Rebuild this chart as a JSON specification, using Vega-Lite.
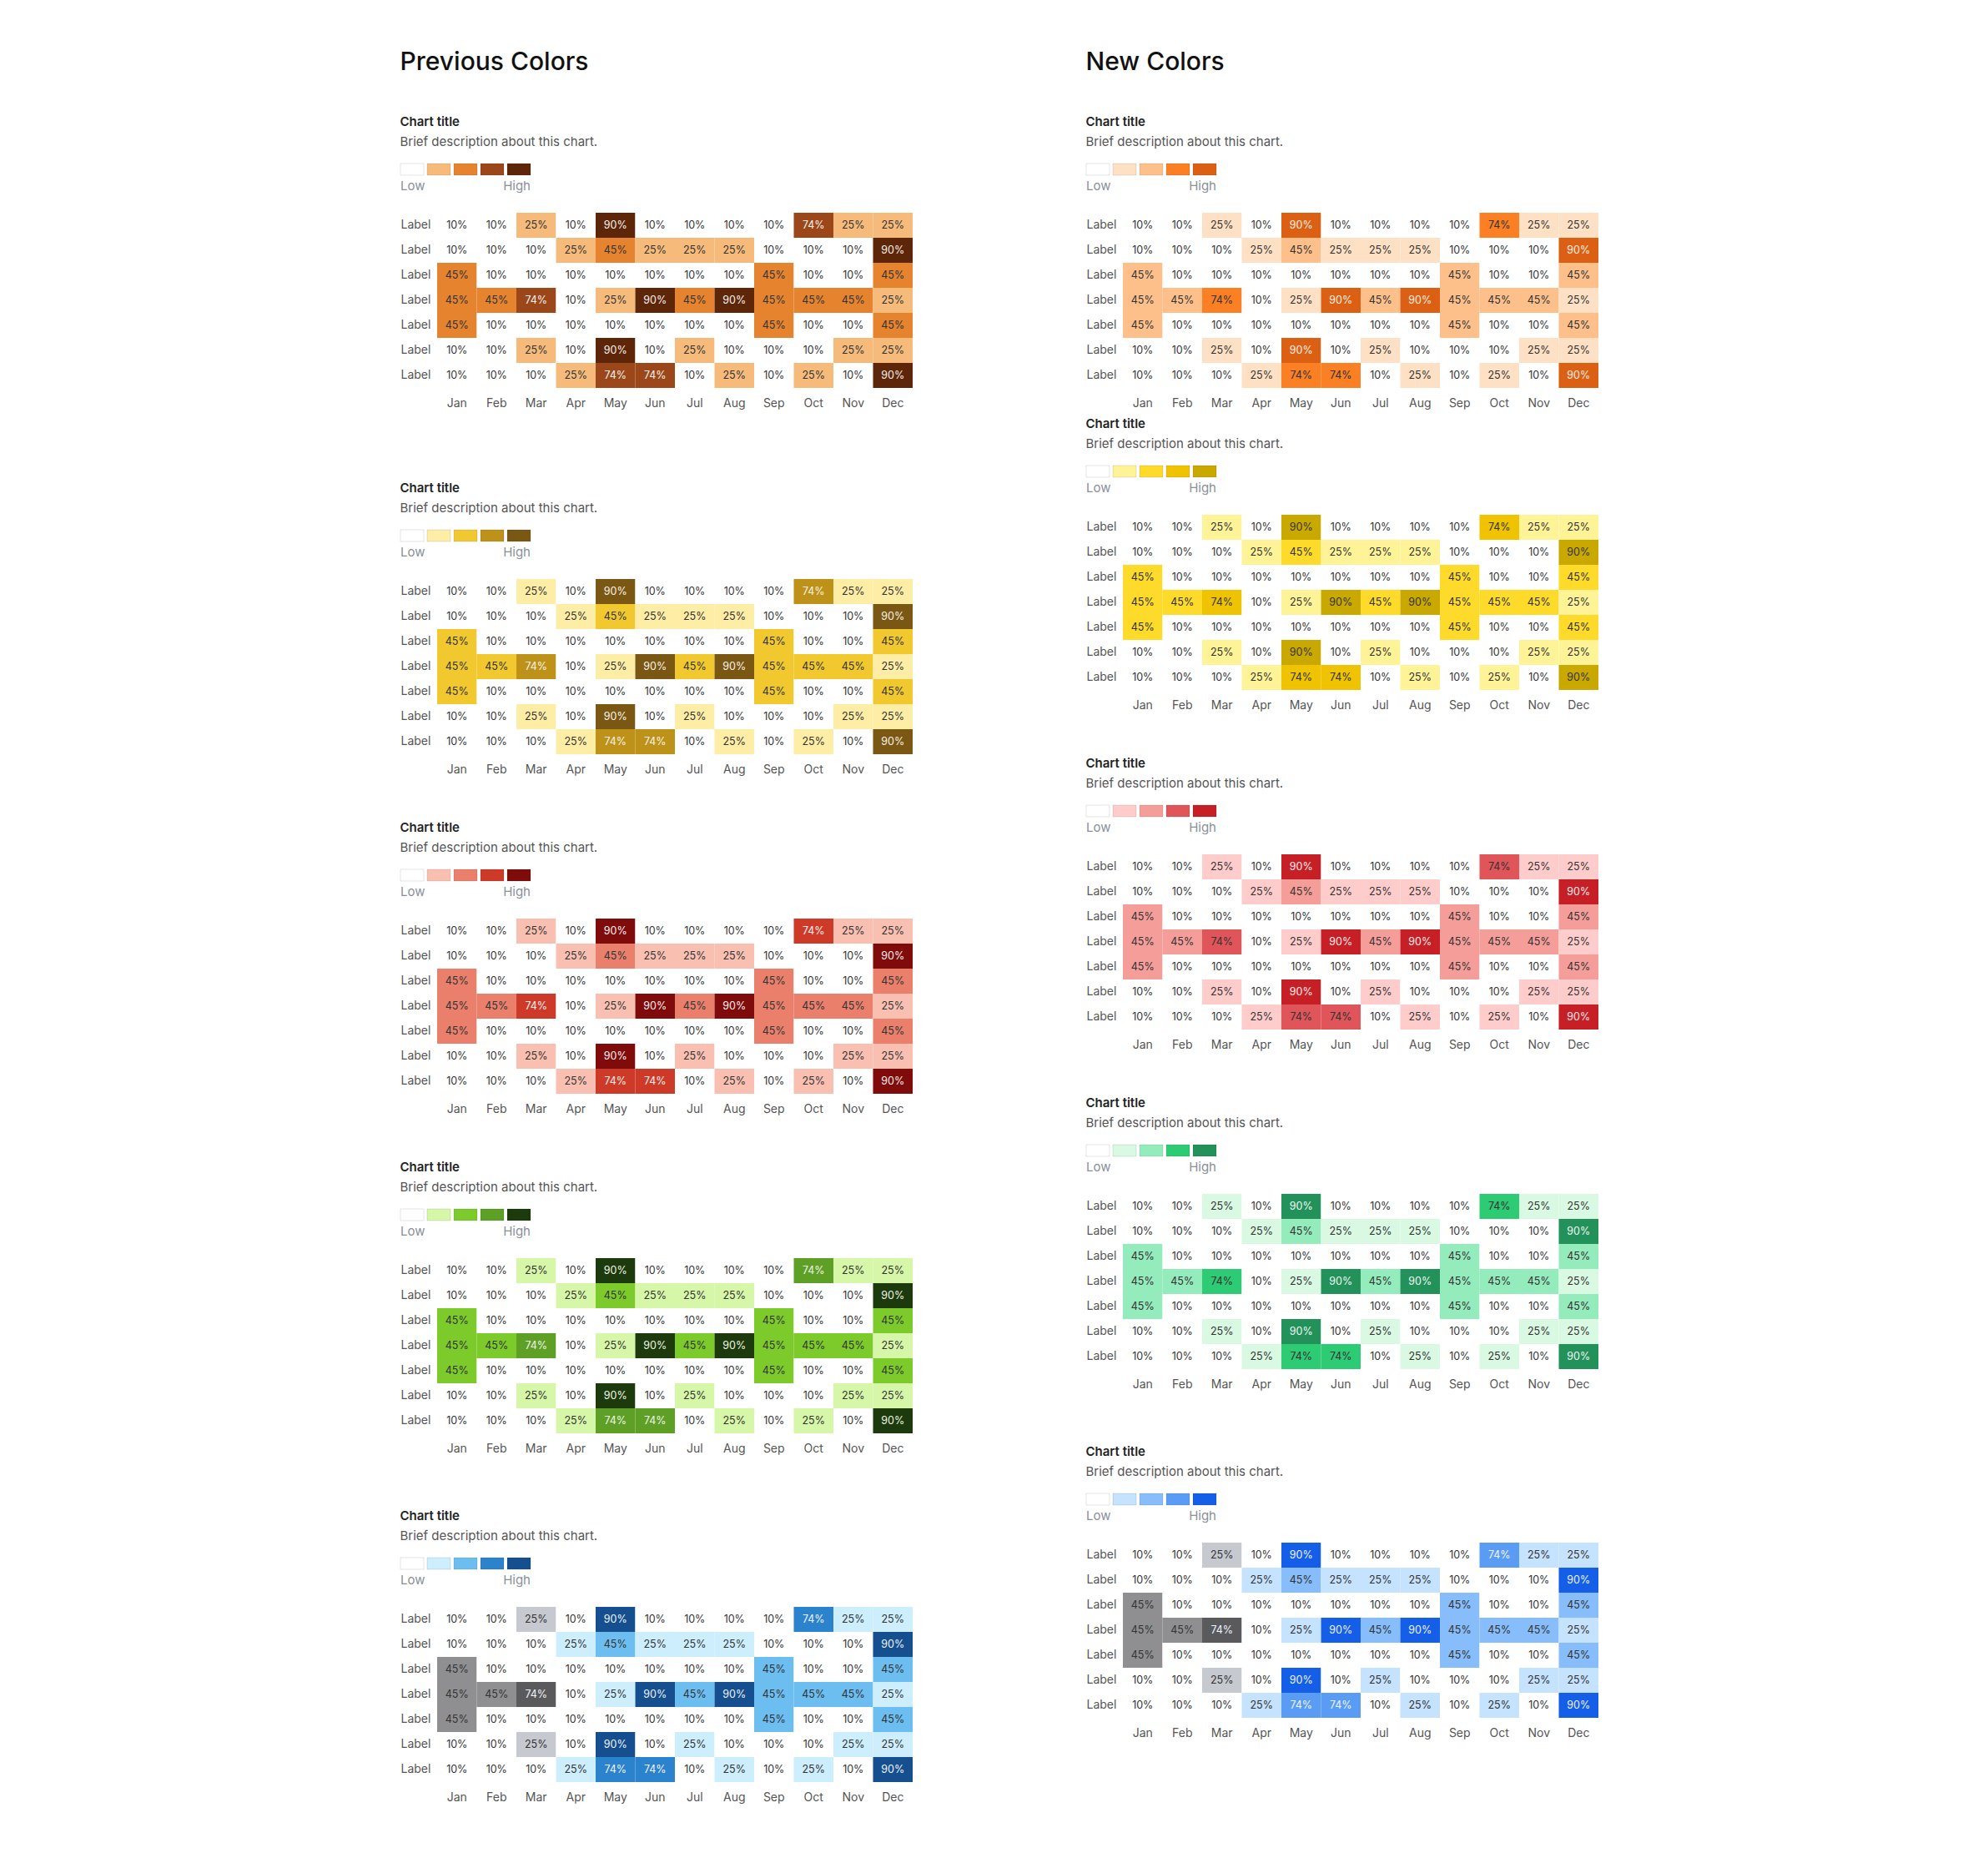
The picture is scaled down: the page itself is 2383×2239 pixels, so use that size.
{
"$schema": "https://vega.github.io/schema/vega-lite/v6.json",
"background": "#ffffff",
"padding": {"left": 479, "top": 59, "right": 20, "bottom": 20},
"spacing": 207,
"config": {
  "font": "Inter",
  "view": {"stroke": null},
  "title": {"anchor": "start", "font": "Inter", "fontSize": 15, "fontWeight": 600, "color": "#222222", "subtitleFont": "Inter", "subtitleFontSize": 15, "subtitleColor": "#555555", "subtitlePadding": 9, "offset": 18},
  "axis": {"domain": false, "ticks": false, "grid": false, "labelFont": "Inter", "labelFontSize": 14, "labelColor": "#555555", "title": null},
  "axisX": {"labelPadding": 11, "labelAngle": 0},
  "axisY": {"labelPadding": 44, "labelAlign": "left"},
  "concat": {"spacing": 24}
},
"datasets": {
  "legsw": [{"i":1,"k":"sw","v":0.1},{"i":2,"k":"sw","v":0.25},{"i":3,"k":"sw","v":0.45},{"i":4,"k":"sw","v":0.74},{"i":5,"k":"sw","v":0.9}],
  "legtxt": [{"i":1,"k":"lab","t":"Low"},{"i":5,"k":"lab","t":"High"}],
  "cells": [
{"r":1,"m":"Jan","v":0.1},{"r":1,"m":"Feb","v":0.1},{"r":1,"m":"Mar","v":0.25},{"r":1,"m":"Apr","v":0.1},{"r":1,"m":"May","v":0.9},{"r":1,"m":"Jun","v":0.1},{"r":1,"m":"Jul","v":0.1},{"r":1,"m":"Aug","v":0.1},{"r":1,"m":"Sep","v":0.1},{"r":1,"m":"Oct","v":0.74},{"r":1,"m":"Nov","v":0.25},{"r":1,"m":"Dec","v":0.25},
{"r":2,"m":"Jan","v":0.1},{"r":2,"m":"Feb","v":0.1},{"r":2,"m":"Mar","v":0.1},{"r":2,"m":"Apr","v":0.25},{"r":2,"m":"May","v":0.45},{"r":2,"m":"Jun","v":0.25},{"r":2,"m":"Jul","v":0.25},{"r":2,"m":"Aug","v":0.25},{"r":2,"m":"Sep","v":0.1},{"r":2,"m":"Oct","v":0.1},{"r":2,"m":"Nov","v":0.1},{"r":2,"m":"Dec","v":0.9},
{"r":3,"m":"Jan","v":0.45},{"r":3,"m":"Feb","v":0.1},{"r":3,"m":"Mar","v":0.1},{"r":3,"m":"Apr","v":0.1},{"r":3,"m":"May","v":0.1},{"r":3,"m":"Jun","v":0.1},{"r":3,"m":"Jul","v":0.1},{"r":3,"m":"Aug","v":0.1},{"r":3,"m":"Sep","v":0.45},{"r":3,"m":"Oct","v":0.1},{"r":3,"m":"Nov","v":0.1},{"r":3,"m":"Dec","v":0.45},
{"r":4,"m":"Jan","v":0.45},{"r":4,"m":"Feb","v":0.45},{"r":4,"m":"Mar","v":0.74},{"r":4,"m":"Apr","v":0.1},{"r":4,"m":"May","v":0.25},{"r":4,"m":"Jun","v":0.9},{"r":4,"m":"Jul","v":0.45},{"r":4,"m":"Aug","v":0.9},{"r":4,"m":"Sep","v":0.45},{"r":4,"m":"Oct","v":0.45},{"r":4,"m":"Nov","v":0.45},{"r":4,"m":"Dec","v":0.25},
{"r":5,"m":"Jan","v":0.45},{"r":5,"m":"Feb","v":0.1},{"r":5,"m":"Mar","v":0.1},{"r":5,"m":"Apr","v":0.1},{"r":5,"m":"May","v":0.1},{"r":5,"m":"Jun","v":0.1},{"r":5,"m":"Jul","v":0.1},{"r":5,"m":"Aug","v":0.1},{"r":5,"m":"Sep","v":0.45},{"r":5,"m":"Oct","v":0.1},{"r":5,"m":"Nov","v":0.1},{"r":5,"m":"Dec","v":0.45},
{"r":6,"m":"Jan","v":0.1},{"r":6,"m":"Feb","v":0.1},{"r":6,"m":"Mar","v":0.25},{"r":6,"m":"Apr","v":0.1},{"r":6,"m":"May","v":0.9},{"r":6,"m":"Jun","v":0.1},{"r":6,"m":"Jul","v":0.25},{"r":6,"m":"Aug","v":0.1},{"r":6,"m":"Sep","v":0.1},{"r":6,"m":"Oct","v":0.1},{"r":6,"m":"Nov","v":0.25},{"r":6,"m":"Dec","v":0.25},
{"r":7,"m":"Jan","v":0.1},{"r":7,"m":"Feb","v":0.1},{"r":7,"m":"Mar","v":0.1},{"r":7,"m":"Apr","v":0.25},{"r":7,"m":"May","v":0.74},{"r":7,"m":"Jun","v":0.74},{"r":7,"m":"Jul","v":0.1},{"r":7,"m":"Aug","v":0.25},{"r":7,"m":"Sep","v":0.1},{"r":7,"m":"Oct","v":0.25},{"r":7,"m":"Nov","v":0.1},{"r":7,"m":"Dec","v":0.9}
  ]
},
"hconcat": [
{
 "title": {"text": "Previous Colors", "fontSize": 30, "fontWeight": 500, "color": "#111111", "offset": 49},
 "columns": 1, "align": "none", "spacing": 87,
 "resolve": {"scale": {"color": "independent", "x": "independent", "y": "independent"}},
 "concat": [
  {
   "title": {"text": "Chart title", "subtitle": "Brief description about this chart."},
   "columns": 1, "align": "none", "spacing": 24,
   "resolve": {"scale": {"color": "independent", "x": "independent", "y": "independent"}},
   "concat": [
    {"width": 156, "height": 34, "layer": [
      {"data": {"name": "legsw"}, "mark": {"type": "rect", "stroke": "#000000", "strokeOpacity": 0.1, "strokeWidth": 1},
       "encoding": {"x": {"field": "i", "type": "ordinal", "scale": {"domain": [1,2,3,4,5], "range": [-44,112], "paddingInner": 0.125, "paddingOuter": 0}, "axis": null},
                    "y": {"field": "k", "type": "nominal", "scale": {"domain": ["sw","lab"], "paddingInner": 0.3, "paddingOuter": 0}, "axis": null},
                    "color": {"field": "v", "type": "ordinal", "scale": {"domain": [0.1,0.25,0.45,0.74,0.9], "range": ["#ffffff","#f6bb7b","#e5832f","#9b4719","#5e2609"]}, "legend": null}}},
      {"data": {"name": "legtxt"}, "transform": [{"filter": "datum.t == 'Low'"}], "mark": {"type": "text", "align": "left", "baseline": "middle", "fontSize": 15, "color": "#8a9099"},
       "encoding": {"x": {"field": "i", "type": "ordinal", "bandPosition": 0}, "y": {"field": "k", "type": "nominal"}, "text": {"field": "t"}}},
      {"data": {"name": "legtxt"}, "transform": [{"filter": "datum.t == 'High'"}], "mark": {"type": "text", "align": "right", "baseline": "middle", "fontSize": 15, "color": "#8a9099"},
       "encoding": {"x": {"field": "i", "type": "ordinal", "bandPosition": 1}, "y": {"field": "k", "type": "nominal"}, "text": {"field": "t"}}}
    ]},
    {"width": 570, "height": 210, "data": {"name": "cells"},
     "encoding": {"x": {"field": "m", "type": "ordinal", "sort": ["Jan","Feb","Mar","Apr","May","Jun","Jul","Aug","Sep","Oct","Nov","Dec"], "scale": {"paddingInner": 0, "paddingOuter": 0}},
                  "y": {"field": "r", "type": "ordinal", "scale": {"paddingInner": 0, "paddingOuter": 0}, "axis": {"labelExpr": "'Label'"}}},
     "layer": [
      {"mark": "rect", "encoding": {"color": {"field": "v", "type": "ordinal", "scale": {"domain": [0.1,0.25,0.45,0.74,0.9], "range": ["#ffffff","#f6bb7b","#e5832f","#9b4719","#5e2609"]}, "legend": null}}},
      {"mark": {"type": "text", "fontSize": 12.5}, "encoding": {"text": {"field": "v", "type": "quantitative", "format": ".0%"}, "color": {"condition": {"test": "datum.v >= 0.74", "value": "#f7f1ec"}, "value": "#333333"}}}
     ]}
   ]
  },
  {
   "columns": 1, "align": "none", "spacing": 66,
   "resolve": {"scale": {"color": "independent", "x": "independent", "y": "independent"}},
   "concat": [
    {
     "columns": 1, "align": "none", "spacing": 55,
     "resolve": {"scale": {"color": "independent", "x": "independent", "y": "independent"}},
     "concat": [
      {
       "title": {"text": "Chart title", "subtitle": "Brief description about this chart."},
       "columns": 1, "align": "none", "spacing": 24,
       "resolve": {"scale": {"color": "independent", "x": "independent", "y": "independent"}},
       "concat": [
        {"width": 156, "height": 34, "layer": [
          {"data": {"name": "legsw"}, "mark": {"type": "rect", "stroke": "#000000", "strokeOpacity": 0.1, "strokeWidth": 1},
           "encoding": {"x": {"field": "i", "type": "ordinal", "scale": {"domain": [1,2,3,4,5], "range": [-44,112], "paddingInner": 0.125, "paddingOuter": 0}, "axis": null},
                        "y": {"field": "k", "type": "nominal", "scale": {"domain": ["sw","lab"], "paddingInner": 0.3, "paddingOuter": 0}, "axis": null},
                        "color": {"field": "v", "type": "ordinal", "scale": {"domain": [0.1,0.25,0.45,0.74,0.9], "range": ["#ffffff","#fdeda5","#f1c92f","#be9118","#7b5714"]}, "legend": null}}},
          {"data": {"name": "legtxt"}, "transform": [{"filter": "datum.t == 'Low'"}], "mark": {"type": "text", "align": "left", "baseline": "middle", "fontSize": 15, "color": "#8a9099"},
           "encoding": {"x": {"field": "i", "type": "ordinal", "bandPosition": 0}, "y": {"field": "k", "type": "nominal"}, "text": {"field": "t"}}},
          {"data": {"name": "legtxt"}, "transform": [{"filter": "datum.t == 'High'"}], "mark": {"type": "text", "align": "right", "baseline": "middle", "fontSize": 15, "color": "#8a9099"},
           "encoding": {"x": {"field": "i", "type": "ordinal", "bandPosition": 1}, "y": {"field": "k", "type": "nominal"}, "text": {"field": "t"}}}
        ]},
        {"width": 570, "height": 210, "data": {"name": "cells"},
         "encoding": {"x": {"field": "m", "type": "ordinal", "sort": ["Jan","Feb","Mar","Apr","May","Jun","Jul","Aug","Sep","Oct","Nov","Dec"], "scale": {"paddingInner": 0, "paddingOuter": 0}},
                      "y": {"field": "r", "type": "ordinal", "scale": {"paddingInner": 0, "paddingOuter": 0}, "axis": {"labelExpr": "'Label'"}}},
         "layer": [
          {"mark": "rect", "encoding": {"color": {"field": "v", "type": "ordinal", "scale": {"domain": [0.1,0.25,0.45,0.74,0.9], "range": ["#ffffff","#fdeda5","#f1c92f","#be9118","#7b5714"]}, "legend": null}}},
          {"mark": {"type": "text", "fontSize": 12.5}, "encoding": {"text": {"field": "v", "type": "quantitative", "format": ".0%"}, "color": {"condition": {"test": "datum.v >= 0.74", "value": "#f7f3e8"}, "value": "#333333"}}}
         ]}
       ]
      },
      {
       "title": {"text": "Chart title", "subtitle": "Brief description about this chart."},
       "columns": 1, "align": "none", "spacing": 24,
       "resolve": {"scale": {"color": "independent", "x": "independent", "y": "independent"}},
       "concat": [
        {"width": 156, "height": 34, "layer": [
          {"data": {"name": "legsw"}, "mark": {"type": "rect", "stroke": "#000000", "strokeOpacity": 0.1, "strokeWidth": 1},
           "encoding": {"x": {"field": "i", "type": "ordinal", "scale": {"domain": [1,2,3,4,5], "range": [-44,112], "paddingInner": 0.125, "paddingOuter": 0}, "axis": null},
                        "y": {"field": "k", "type": "nominal", "scale": {"domain": ["sw","lab"], "paddingInner": 0.3, "paddingOuter": 0}, "axis": null},
                        "color": {"field": "v", "type": "ordinal", "scale": {"domain": [0.1,0.25,0.45,0.74,0.9], "range": ["#ffffff","#f9c0b1","#ea806c","#cd3b28","#7f0b0b"]}, "legend": null}}},
          {"data": {"name": "legtxt"}, "transform": [{"filter": "datum.t == 'Low'"}], "mark": {"type": "text", "align": "left", "baseline": "middle", "fontSize": 15, "color": "#8a9099"},
           "encoding": {"x": {"field": "i", "type": "ordinal", "bandPosition": 0}, "y": {"field": "k", "type": "nominal"}, "text": {"field": "t"}}},
          {"data": {"name": "legtxt"}, "transform": [{"filter": "datum.t == 'High'"}], "mark": {"type": "text", "align": "right", "baseline": "middle", "fontSize": 15, "color": "#8a9099"},
           "encoding": {"x": {"field": "i", "type": "ordinal", "bandPosition": 1}, "y": {"field": "k", "type": "nominal"}, "text": {"field": "t"}}}
        ]},
        {"width": 570, "height": 210, "data": {"name": "cells"},
         "encoding": {"x": {"field": "m", "type": "ordinal", "sort": ["Jan","Feb","Mar","Apr","May","Jun","Jul","Aug","Sep","Oct","Nov","Dec"], "scale": {"paddingInner": 0, "paddingOuter": 0}},
                      "y": {"field": "r", "type": "ordinal", "scale": {"paddingInner": 0, "paddingOuter": 0}, "axis": {"labelExpr": "'Label'"}}},
         "layer": [
          {"mark": "rect", "encoding": {"color": {"field": "v", "type": "ordinal", "scale": {"domain": [0.1,0.25,0.45,0.74,0.9], "range": ["#ffffff","#f9c0b1","#ea806c","#cd3b28","#7f0b0b"]}, "legend": null}}},
          {"mark": {"type": "text", "fontSize": 12.5}, "encoding": {"text": {"field": "v", "type": "quantitative", "format": ".0%"}, "color": {"condition": {"test": "datum.v >= 0.74", "value": "#fbeeee"}, "value": "#333333"}}}
         ]}
       ]
      },
      {
       "title": {"text": "Chart title", "subtitle": "Brief description about this chart."},
       "columns": 1, "align": "none", "spacing": 24,
       "resolve": {"scale": {"color": "independent", "x": "independent", "y": "independent"}},
       "concat": [
        {"width": 156, "height": 34, "layer": [
          {"data": {"name": "legsw"}, "mark": {"type": "rect", "stroke": "#000000", "strokeOpacity": 0.1, "strokeWidth": 1},
           "encoding": {"x": {"field": "i", "type": "ordinal", "scale": {"domain": [1,2,3,4,5], "range": [-44,112], "paddingInner": 0.125, "paddingOuter": 0}, "axis": null},
                        "y": {"field": "k", "type": "nominal", "scale": {"domain": ["sw","lab"], "paddingInner": 0.3, "paddingOuter": 0}, "axis": null},
                        "color": {"field": "v", "type": "ordinal", "scale": {"domain": [0.1,0.25,0.45,0.74,0.9], "range": ["#ffffff","#d6f6a8","#7ccb2b","#5e9f26","#1c3a0b"]}, "legend": null}}},
          {"data": {"name": "legtxt"}, "transform": [{"filter": "datum.t == 'Low'"}], "mark": {"type": "text", "align": "left", "baseline": "middle", "fontSize": 15, "color": "#8a9099"},
           "encoding": {"x": {"field": "i", "type": "ordinal", "bandPosition": 0}, "y": {"field": "k", "type": "nominal"}, "text": {"field": "t"}}},
          {"data": {"name": "legtxt"}, "transform": [{"filter": "datum.t == 'High'"}], "mark": {"type": "text", "align": "right", "baseline": "middle", "fontSize": 15, "color": "#8a9099"},
           "encoding": {"x": {"field": "i", "type": "ordinal", "bandPosition": 1}, "y": {"field": "k", "type": "nominal"}, "text": {"field": "t"}}}
        ]},
        {"width": 570, "height": 210, "data": {"name": "cells"},
         "encoding": {"x": {"field": "m", "type": "ordinal", "sort": ["Jan","Feb","Mar","Apr","May","Jun","Jul","Aug","Sep","Oct","Nov","Dec"], "scale": {"paddingInner": 0, "paddingOuter": 0}},
                      "y": {"field": "r", "type": "ordinal", "scale": {"paddingInner": 0, "paddingOuter": 0}, "axis": {"labelExpr": "'Label'"}}},
         "layer": [
          {"mark": "rect", "encoding": {"color": {"field": "v", "type": "ordinal", "scale": {"domain": [0.1,0.25,0.45,0.74,0.9], "range": ["#ffffff","#d6f6a8","#7ccb2b","#5e9f26","#1c3a0b"]}, "legend": null}}},
          {"mark": {"type": "text", "fontSize": 12.5}, "encoding": {"text": {"field": "v", "type": "quantitative", "format": ".0%"}, "color": {"condition": {"test": "datum.v >= 0.74", "value": "#eef5e6"}, "value": "#333333"}}}
         ]}
       ]
      }
     ]
    },
    {
     "title": {"text": "Chart title", "subtitle": "Brief description about this chart."},
     "columns": 1, "align": "none", "spacing": 24,
     "resolve": {"scale": {"color": "independent", "x": "independent", "y": "independent"}},
     "concat": [
      {"width": 156, "height": 34, "layer": [
        {"data": {"name": "legsw"}, "mark": {"type": "rect", "stroke": "#000000", "strokeOpacity": 0.1, "strokeWidth": 1},
         "encoding": {"x": {"field": "i", "type": "ordinal", "scale": {"domain": [1,2,3,4,5], "range": [-44,112], "paddingInner": 0.125, "paddingOuter": 0}, "axis": null},
                      "y": {"field": "k", "type": "nominal", "scale": {"domain": ["sw","lab"], "paddingInner": 0.3, "paddingOuter": 0}, "axis": null},
                      "color": {"field": "v", "type": "ordinal", "scale": {"domain": [0.1,0.25,0.45,0.74,0.9], "range": ["#ffffff","#cdeefd","#6cbdf0","#2b82cd","#154f8f"]}, "legend": null}}},
        {"data": {"name": "legtxt"}, "transform": [{"filter": "datum.t == 'Low'"}], "mark": {"type": "text", "align": "left", "baseline": "middle", "fontSize": 15, "color": "#8a9099"},
         "encoding": {"x": {"field": "i", "type": "ordinal", "bandPosition": 0}, "y": {"field": "k", "type": "nominal"}, "text": {"field": "t"}}},
        {"data": {"name": "legtxt"}, "transform": [{"filter": "datum.t == 'High'"}], "mark": {"type": "text", "align": "right", "baseline": "middle", "fontSize": 15, "color": "#8a9099"},
         "encoding": {"x": {"field": "i", "type": "ordinal", "bandPosition": 1}, "y": {"field": "k", "type": "nominal"}, "text": {"field": "t"}}}
      ]},
      {"width": 570, "height": 210, "data": {"name": "cells"},
       "encoding": {"x": {"field": "m", "type": "ordinal", "sort": ["Jan","Feb","Mar","Apr","May","Jun","Jul","Aug","Sep","Oct","Nov","Dec"], "scale": {"paddingInner": 0, "paddingOuter": 0}},
                    "y": {"field": "r", "type": "ordinal", "scale": {"paddingInner": 0, "paddingOuter": 0}, "axis": {"labelExpr": "'Label'"}}},
       "layer": [
        {"mark": "rect", "encoding": {"color": {"condition": [
            {"test": "indexof(['Jan','Feb','Mar'], datum.m) >= 0 && datum.v == 0.25", "value": "#c6c9cf"},
            {"test": "indexof(['Jan','Feb','Mar'], datum.m) >= 0 && datum.v == 0.45", "value": "#8f8f91"},
            {"test": "indexof(['Jan','Feb','Mar'], datum.m) >= 0 && datum.v == 0.74", "value": "#5a5a5c"}],
          "field": "v", "type": "ordinal", "scale": {"domain": [0.1,0.25,0.45,0.74,0.9], "range": ["#ffffff","#cdeefd","#6cbdf0","#2b82cd","#154f8f"]}, "legend": null}}},
        {"mark": {"type": "text", "fontSize": 12.5}, "encoding": {"text": {"field": "v", "type": "quantitative", "format": ".0%"}, "color": {"condition": {"test": "datum.v >= 0.74", "value": "#eef4fa"}, "value": "#333333"}}}
       ]}
     ]
    }
   ]
  }
 ]
},
{
 "title": {"text": "New Colors", "fontSize": 30, "fontWeight": 500, "color": "#111111", "offset": 49},
 "columns": 1, "align": "none", "spacing": 10,
 "resolve": {"scale": {"color": "independent", "x": "independent", "y": "independent"}},
 "concat": [
  {
   "title": {"text": "Chart title", "subtitle": "Brief description about this chart."},
   "columns": 1, "align": "none", "spacing": 24,
   "resolve": {"scale": {"color": "independent", "x": "independent", "y": "independent"}},
   "concat": [
    {"width": 156, "height": 34, "layer": [
      {"data": {"name": "legsw"}, "mark": {"type": "rect", "stroke": "#000000", "strokeOpacity": 0.1, "strokeWidth": 1},
       "encoding": {"x": {"field": "i", "type": "ordinal", "scale": {"domain": [1,2,3,4,5], "range": [-44,112], "paddingInner": 0.125, "paddingOuter": 0}, "axis": null},
                    "y": {"field": "k", "type": "nominal", "scale": {"domain": ["sw","lab"], "paddingInner": 0.3, "paddingOuter": 0}, "axis": null},
                    "color": {"field": "v", "type": "ordinal", "scale": {"domain": [0.1,0.25,0.45,0.74,0.9], "range": ["#ffffff","#fee1c4","#fdc08b","#fb7f23","#dc6013"]}, "legend": null}}},
      {"data": {"name": "legtxt"}, "transform": [{"filter": "datum.t == 'Low'"}], "mark": {"type": "text", "align": "left", "baseline": "middle", "fontSize": 15, "color": "#8a9099"},
       "encoding": {"x": {"field": "i", "type": "ordinal", "bandPosition": 0}, "y": {"field": "k", "type": "nominal"}, "text": {"field": "t"}}},
      {"data": {"name": "legtxt"}, "transform": [{"filter": "datum.t == 'High'"}], "mark": {"type": "text", "align": "right", "baseline": "middle", "fontSize": 15, "color": "#8a9099"},
       "encoding": {"x": {"field": "i", "type": "ordinal", "bandPosition": 1}, "y": {"field": "k", "type": "nominal"}, "text": {"field": "t"}}}
    ]},
    {"width": 570, "height": 210, "data": {"name": "cells"},
     "encoding": {"x": {"field": "m", "type": "ordinal", "sort": ["Jan","Feb","Mar","Apr","May","Jun","Jul","Aug","Sep","Oct","Nov","Dec"], "scale": {"paddingInner": 0, "paddingOuter": 0}},
                  "y": {"field": "r", "type": "ordinal", "scale": {"paddingInner": 0, "paddingOuter": 0}, "axis": {"labelExpr": "'Label'"}}},
     "layer": [
      {"mark": "rect", "encoding": {"color": {"field": "v", "type": "ordinal", "scale": {"domain": [0.1,0.25,0.45,0.74,0.9], "range": ["#ffffff","#fee1c4","#fdc08b","#fb7f23","#dc6013"]}, "legend": null}}},
      {"mark": {"type": "text", "fontSize": 12.5}, "encoding": {"text": {"field": "v", "type": "quantitative", "format": ".0%"}, "color": {"condition": {"test": "datum.v >= 0.9", "value": "#fdf0e6"}, "value": "#333333"}}}
     ]}
   ]
  },
  {
   "columns": 1, "align": "none", "spacing": 66,
   "resolve": {"scale": {"color": "independent", "x": "independent", "y": "independent"}},
   "concat": [
    {
     "columns": 1, "align": "none", "spacing": 55,
     "resolve": {"scale": {"color": "independent", "x": "independent", "y": "independent"}},
     "concat": [
      {
       "title": {"text": "Chart title", "subtitle": "Brief description about this chart."},
       "columns": 1, "align": "none", "spacing": 24,
       "resolve": {"scale": {"color": "independent", "x": "independent", "y": "independent"}},
       "concat": [
        {"width": 156, "height": 34, "layer": [
          {"data": {"name": "legsw"}, "mark": {"type": "rect", "stroke": "#000000", "strokeOpacity": 0.1, "strokeWidth": 1},
           "encoding": {"x": {"field": "i", "type": "ordinal", "scale": {"domain": [1,2,3,4,5], "range": [-44,112], "paddingInner": 0.125, "paddingOuter": 0}, "axis": null},
                        "y": {"field": "k", "type": "nominal", "scale": {"domain": ["sw","lab"], "paddingInner": 0.3, "paddingOuter": 0}, "axis": null},
                        "color": {"field": "v", "type": "ordinal", "scale": {"domain": [0.1,0.25,0.45,0.74,0.9], "range": ["#ffffff","#fff397","#fedb2b","#f0c300","#c9a800"]}, "legend": null}}},
          {"data": {"name": "legtxt"}, "transform": [{"filter": "datum.t == 'Low'"}], "mark": {"type": "text", "align": "left", "baseline": "middle", "fontSize": 15, "color": "#8a9099"},
           "encoding": {"x": {"field": "i", "type": "ordinal", "bandPosition": 0}, "y": {"field": "k", "type": "nominal"}, "text": {"field": "t"}}},
          {"data": {"name": "legtxt"}, "transform": [{"filter": "datum.t == 'High'"}], "mark": {"type": "text", "align": "right", "baseline": "middle", "fontSize": 15, "color": "#8a9099"},
           "encoding": {"x": {"field": "i", "type": "ordinal", "bandPosition": 1}, "y": {"field": "k", "type": "nominal"}, "text": {"field": "t"}}}
        ]},
        {"width": 570, "height": 210, "data": {"name": "cells"},
         "encoding": {"x": {"field": "m", "type": "ordinal", "sort": ["Jan","Feb","Mar","Apr","May","Jun","Jul","Aug","Sep","Oct","Nov","Dec"], "scale": {"paddingInner": 0, "paddingOuter": 0}},
                      "y": {"field": "r", "type": "ordinal", "scale": {"paddingInner": 0, "paddingOuter": 0}, "axis": {"labelExpr": "'Label'"}}},
         "layer": [
          {"mark": "rect", "encoding": {"color": {"field": "v", "type": "ordinal", "scale": {"domain": [0.1,0.25,0.45,0.74,0.9], "range": ["#ffffff","#fff397","#fedb2b","#f0c300","#c9a800"]}, "legend": null}}},
          {"mark": {"type": "text", "fontSize": 12.5}, "encoding": {"text": {"field": "v", "type": "quantitative", "format": ".0%"}, "color": {"condition": {"test": "datum.v >= 2", "value": "#ffffff"}, "value": "#333333"}}}
         ]}
       ]
      },
      {
       "title": {"text": "Chart title", "subtitle": "Brief description about this chart."},
       "columns": 1, "align": "none", "spacing": 24,
       "resolve": {"scale": {"color": "independent", "x": "independent", "y": "independent"}},
       "concat": [
        {"width": 156, "height": 34, "layer": [
          {"data": {"name": "legsw"}, "mark": {"type": "rect", "stroke": "#000000", "strokeOpacity": 0.1, "strokeWidth": 1},
           "encoding": {"x": {"field": "i", "type": "ordinal", "scale": {"domain": [1,2,3,4,5], "range": [-44,112], "paddingInner": 0.125, "paddingOuter": 0}, "axis": null},
                        "y": {"field": "k", "type": "nominal", "scale": {"domain": ["sw","lab"], "paddingInner": 0.3, "paddingOuter": 0}, "axis": null},
                        "color": {"field": "v", "type": "ordinal", "scale": {"domain": [0.1,0.25,0.45,0.74,0.9], "range": ["#ffffff","#fecccb","#f59d99","#e0555a","#c61f26"]}, "legend": null}}},
          {"data": {"name": "legtxt"}, "transform": [{"filter": "datum.t == 'Low'"}], "mark": {"type": "text", "align": "left", "baseline": "middle", "fontSize": 15, "color": "#8a9099"},
           "encoding": {"x": {"field": "i", "type": "ordinal", "bandPosition": 0}, "y": {"field": "k", "type": "nominal"}, "text": {"field": "t"}}},
          {"data": {"name": "legtxt"}, "transform": [{"filter": "datum.t == 'High'"}], "mark": {"type": "text", "align": "right", "baseline": "middle", "fontSize": 15, "color": "#8a9099"},
           "encoding": {"x": {"field": "i", "type": "ordinal", "bandPosition": 1}, "y": {"field": "k", "type": "nominal"}, "text": {"field": "t"}}}
        ]},
        {"width": 570, "height": 210, "data": {"name": "cells"},
         "encoding": {"x": {"field": "m", "type": "ordinal", "sort": ["Jan","Feb","Mar","Apr","May","Jun","Jul","Aug","Sep","Oct","Nov","Dec"], "scale": {"paddingInner": 0, "paddingOuter": 0}},
                      "y": {"field": "r", "type": "ordinal", "scale": {"paddingInner": 0, "paddingOuter": 0}, "axis": {"labelExpr": "'Label'"}}},
         "layer": [
          {"mark": "rect", "encoding": {"color": {"field": "v", "type": "ordinal", "scale": {"domain": [0.1,0.25,0.45,0.74,0.9], "range": ["#ffffff","#fecccb","#f59d99","#e0555a","#c61f26"]}, "legend": null}}},
          {"mark": {"type": "text", "fontSize": 12.5}, "encoding": {"text": {"field": "v", "type": "quantitative", "format": ".0%"}, "color": {"condition": {"test": "datum.v >= 0.9", "value": "#fdeeee"}, "value": "#333333"}}}
         ]}
       ]
      },
      {
       "title": {"text": "Chart title", "subtitle": "Brief description about this chart."},
       "columns": 1, "align": "none", "spacing": 24,
       "resolve": {"scale": {"color": "independent", "x": "independent", "y": "independent"}},
       "concat": [
        {"width": 156, "height": 34, "layer": [
          {"data": {"name": "legsw"}, "mark": {"type": "rect", "stroke": "#000000", "strokeOpacity": 0.1, "strokeWidth": 1},
           "encoding": {"x": {"field": "i", "type": "ordinal", "scale": {"domain": [1,2,3,4,5], "range": [-44,112], "paddingInner": 0.125, "paddingOuter": 0}, "axis": null},
                        "y": {"field": "k", "type": "nominal", "scale": {"domain": ["sw","lab"], "paddingInner": 0.3, "paddingOuter": 0}, "axis": null},
                        "color": {"field": "v", "type": "ordinal", "scale": {"domain": [0.1,0.25,0.45,0.74,0.9], "range": ["#ffffff","#d9f9e2","#94ebbb","#2ecb75","#22915a"]}, "legend": null}}},
          {"data": {"name": "legtxt"}, "transform": [{"filter": "datum.t == 'Low'"}], "mark": {"type": "text", "align": "left", "baseline": "middle", "fontSize": 15, "color": "#8a9099"},
           "encoding": {"x": {"field": "i", "type": "ordinal", "bandPosition": 0}, "y": {"field": "k", "type": "nominal"}, "text": {"field": "t"}}},
          {"data": {"name": "legtxt"}, "transform": [{"filter": "datum.t == 'High'"}], "mark": {"type": "text", "align": "right", "baseline": "middle", "fontSize": 15, "color": "#8a9099"},
           "encoding": {"x": {"field": "i", "type": "ordinal", "bandPosition": 1}, "y": {"field": "k", "type": "nominal"}, "text": {"field": "t"}}}
        ]},
        {"width": 570, "height": 210, "data": {"name": "cells"},
         "encoding": {"x": {"field": "m", "type": "ordinal", "sort": ["Jan","Feb","Mar","Apr","May","Jun","Jul","Aug","Sep","Oct","Nov","Dec"], "scale": {"paddingInner": 0, "paddingOuter": 0}},
                      "y": {"field": "r", "type": "ordinal", "scale": {"paddingInner": 0, "paddingOuter": 0}, "axis": {"labelExpr": "'Label'"}}},
         "layer": [
          {"mark": "rect", "encoding": {"color": {"field": "v", "type": "ordinal", "scale": {"domain": [0.1,0.25,0.45,0.74,0.9], "range": ["#ffffff","#d9f9e2","#94ebbb","#2ecb75","#22915a"]}, "legend": null}}},
          {"mark": {"type": "text", "fontSize": 12.5}, "encoding": {"text": {"field": "v", "type": "quantitative", "format": ".0%"}, "color": {"condition": {"test": "datum.v >= 0.9", "value": "#eef8f2"}, "value": "#333333"}}}
         ]}
       ]
      }
     ]
    },
    {
     "title": {"text": "Chart title", "subtitle": "Brief description about this chart."},
     "columns": 1, "align": "none", "spacing": 24,
     "resolve": {"scale": {"color": "independent", "x": "independent", "y": "independent"}},
     "concat": [
      {"width": 156, "height": 34, "layer": [
        {"data": {"name": "legsw"}, "mark": {"type": "rect", "stroke": "#000000", "strokeOpacity": 0.1, "strokeWidth": 1},
         "encoding": {"x": {"field": "i", "type": "ordinal", "scale": {"domain": [1,2,3,4,5], "range": [-44,112], "paddingInner": 0.125, "paddingOuter": 0}, "axis": null},
                      "y": {"field": "k", "type": "nominal", "scale": {"domain": ["sw","lab"], "paddingInner": 0.3, "paddingOuter": 0}, "axis": null},
                      "color": {"field": "v", "type": "ordinal", "scale": {"domain": [0.1,0.25,0.45,0.74,0.9], "range": ["#ffffff","#c5e2fe","#86bdfa","#5a9cf4","#155ee7"]}, "legend": null}}},
        {"data": {"name": "legtxt"}, "transform": [{"filter": "datum.t == 'Low'"}], "mark": {"type": "text", "align": "left", "baseline": "middle", "fontSize": 15, "color": "#8a9099"},
         "encoding": {"x": {"field": "i", "type": "ordinal", "bandPosition": 0}, "y": {"field": "k", "type": "nominal"}, "text": {"field": "t"}}},
        {"data": {"name": "legtxt"}, "transform": [{"filter": "datum.t == 'High'"}], "mark": {"type": "text", "align": "right", "baseline": "middle", "fontSize": 15, "color": "#8a9099"},
         "encoding": {"x": {"field": "i", "type": "ordinal", "bandPosition": 1}, "y": {"field": "k", "type": "nominal"}, "text": {"field": "t"}}}
      ]},
      {"width": 570, "height": 210, "data": {"name": "cells"},
       "encoding": {"x": {"field": "m", "type": "ordinal", "sort": ["Jan","Feb","Mar","Apr","May","Jun","Jul","Aug","Sep","Oct","Nov","Dec"], "scale": {"paddingInner": 0, "paddingOuter": 0}},
                    "y": {"field": "r", "type": "ordinal", "scale": {"paddingInner": 0, "paddingOuter": 0}, "axis": {"labelExpr": "'Label'"}}},
       "layer": [
        {"mark": "rect", "encoding": {"color": {"condition": [
            {"test": "indexof(['Jan','Feb','Mar'], datum.m) >= 0 && datum.v == 0.25", "value": "#c6c9cf"},
            {"test": "indexof(['Jan','Feb','Mar'], datum.m) >= 0 && datum.v == 0.45", "value": "#8f8f91"},
            {"test": "indexof(['Jan','Feb','Mar'], datum.m) >= 0 && datum.v == 0.74", "value": "#5a5a5c"}],
          "field": "v", "type": "ordinal", "scale": {"domain": [0.1,0.25,0.45,0.74,0.9], "range": ["#ffffff","#c5e2fe","#86bdfa","#5a9cf4","#155ee7"]}, "legend": null}}},
        {"mark": {"type": "text", "fontSize": 12.5}, "encoding": {"text": {"field": "v", "type": "quantitative", "format": ".0%"}, "color": {"condition": {"test": "datum.v >= 0.74", "value": "#eef4fe"}, "value": "#333333"}}}
       ]}
     ]
    }
   ]
  }
 ]
}
]
}
